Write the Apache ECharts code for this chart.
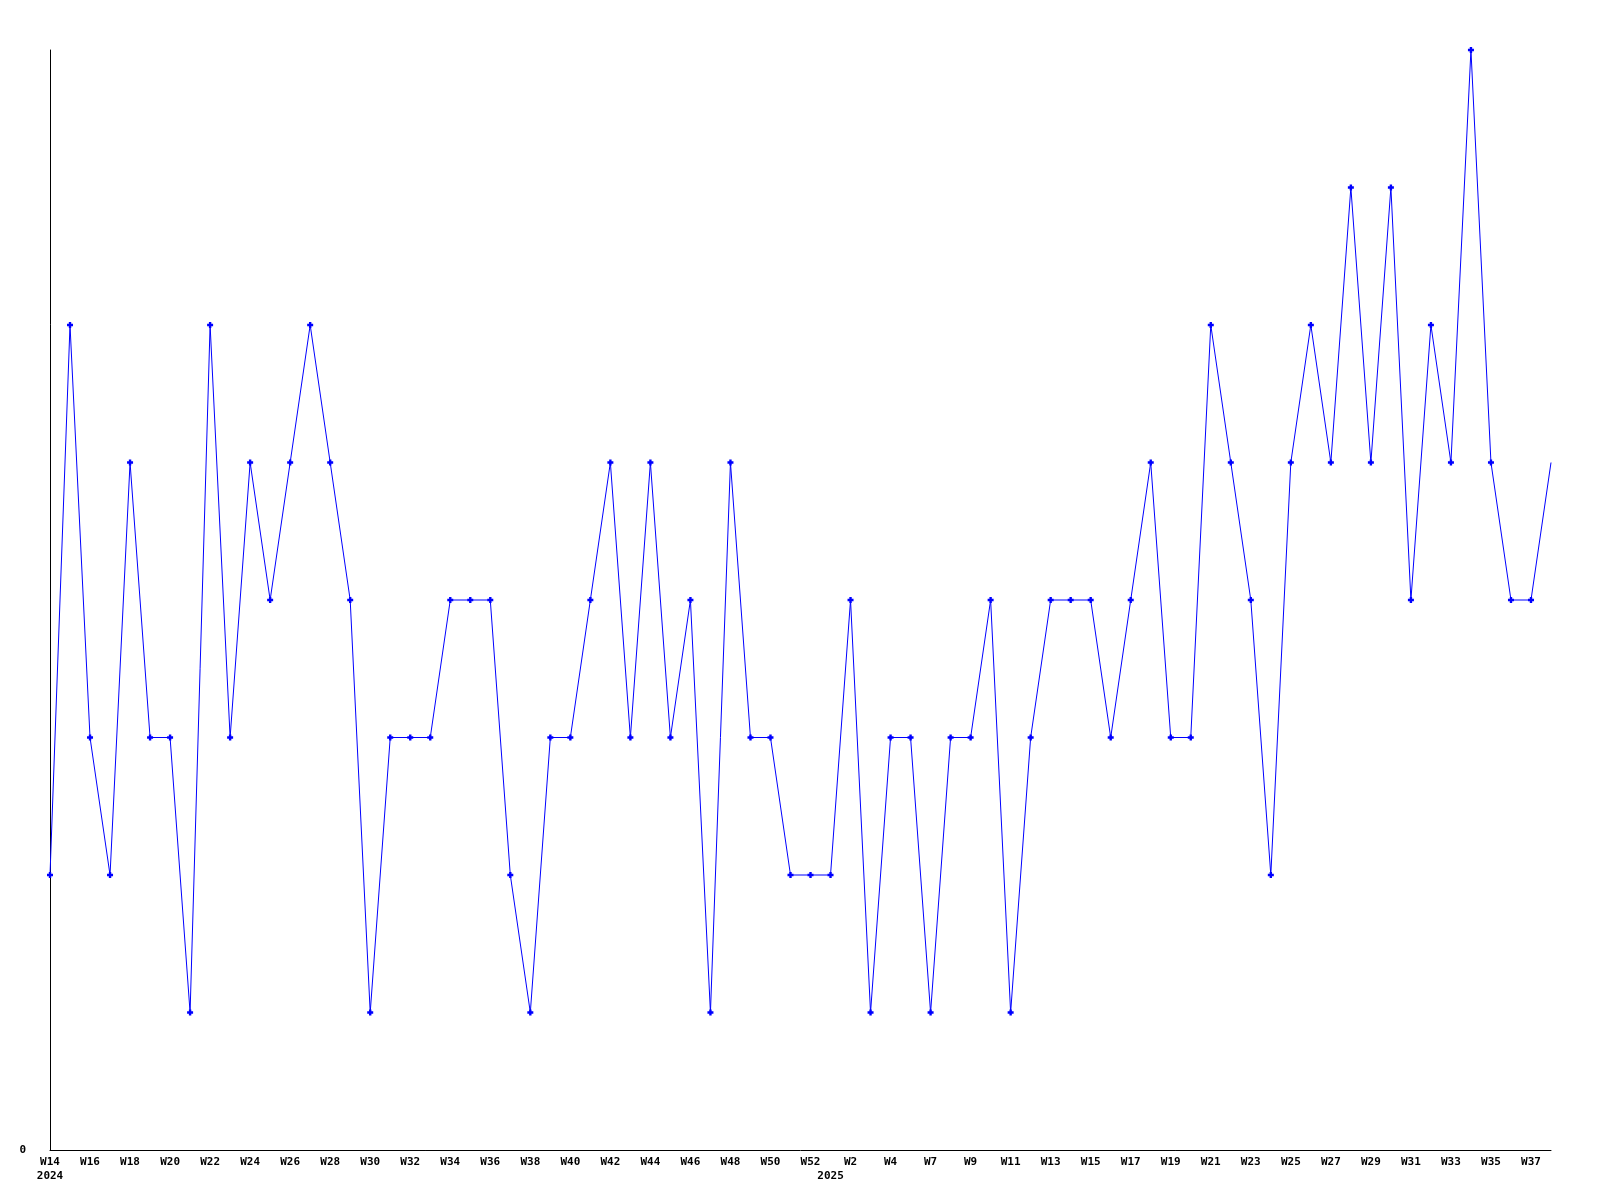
<!DOCTYPE html>
<html>
<head>
<meta charset="utf-8">
<title>weekly</title>
<script src="https://cdn.jsdelivr.net/npm/echarts@6/dist/echarts.min.js"></script>
<style>
  html, body { margin: 0; padding: 0; background: #fff; }
  #main { width: 1600px; height: 1200px; }
</style>
</head>
<body>
<div id="main"></div>
<script>
// weeks shown on the x axis (W5 is not in the data)
var weeks = [
  'W14', 'W15', 'W16', 'W17', 'W18', 'W19', 'W20', 'W21', 'W22', 'W23',
  'W24', 'W25', 'W26', 'W27', 'W28', 'W29', 'W30', 'W31', 'W32', 'W33',
  'W34', 'W35', 'W36', 'W37', 'W38', 'W39', 'W40', 'W41', 'W42', 'W43',
  'W44', 'W45', 'W46', 'W47', 'W48', 'W49', 'W50', 'W51', 'W52',
  'W1', 'W2', 'W3', 'W4', 'W6', 'W7', 'W8', 'W9', 'W10', 'W11', 'W12',
  'W13', 'W14', 'W15', 'W16', 'W17', 'W18', 'W19', 'W20', 'W21', 'W22',
  'W23', 'W24', 'W25', 'W26', 'W27', 'W28', 'W29', 'W30', 'W31', 'W32',
  'W33', 'W34', 'W35', 'W36', 'W37', 'W38'
]
// year label under the first week of each year
var years = { 0: '2024', 39: '2025' }

var counts = [
  2, 6, 3, 2, 5, 3, 3, 1, 6, 3,
  5, 4, 5, 6, 5, 4, 1, 3, 3, 3,
  4, 4, 4, 2, 1, 3, 3, 4, 5, 3,
  5, 3, 4, 1, 5, 3, 3, 2, 2,
  2, 4, 1, 3, 3, 1, 3, 3, 4, 1, 3,
  4, 4, 4, 3, 4, 5, 3, 3, 6, 5,
  4, 2, 5, 6, 5, 7, 5, 7, 4, 6,
  5, 8, 5, 4, 4, 5
]

var myChart = echarts.init(document.getElementById('main'))
var font = 'DejaVu Sans Mono'

// 最后一个点在边上，不画标记
var seriesData = counts.map(function (v, i) {
  if (i === counts.length - 1) {
    return { value: v, symbol: 'none' }
  }
  return v
})

var option = {
  backgroundColor: '#fff',
  animation: false,
  grid: {
    left: 50,
    right: 49,
    top: 50,
    bottom: 50
  },
  xAxis: [
    {
      type: 'category',
      data: weeks,
      boundaryGap: false,
      axisLine: { lineStyle: { color: '#000', width: 1 } },
      axisTick: { show: false },
      axisLabel: {
        interval: 1,
        margin: 7,
        color: '#000',
        fontFamily: font,
        fontWeight: 'bold',
        fontSize: 11
      },
      splitLine: { show: false }
    },
    {
      type: 'category',
      data: weeks,
      position: 'bottom',
      boundaryGap: false,
      axisLine: { show: false },
      axisTick: { show: false },
      axisLabel: {
        interval: 0,
        margin: 21,
        color: '#000',
        fontFamily: font,
        fontWeight: 'bold',
        fontSize: 11,
        formatter: function (v, i) {
          return years[i] || ''
        }
      },
      splitLine: { show: false }
    }
  ],
  yAxis: {
    type: 'value',
    min: 0,
    max: 8,
    interval: 1,
    axisLine: { show: true, lineStyle: { color: '#000', width: 1 } },
    axisTick: { show: false },
    splitLine: { show: false },
    axisLabel: {
      margin: 24,
      color: '#000',
      fontFamily: font,
      fontWeight: 'bold',
      fontSize: 11,
      formatter: function (v) {
        return v === 0 ? '0' : ''
      }
    }
  },
  series: [
    {
      type: 'line',
      data: seriesData,
      symbol: 'path://M1.5,0H3.5V1.5H5V3.5H3.5V5H1.5V3.5H0V1.5H1.5Z',
      symbolSize: 6,
      showAllSymbol: true,
      lineStyle: { color: '#0000ff', width: 1 },
      itemStyle: { color: '#0000ff' }
    }
  ]
}

option && myChart.setOption(option)
</script>
</body>
</html>
